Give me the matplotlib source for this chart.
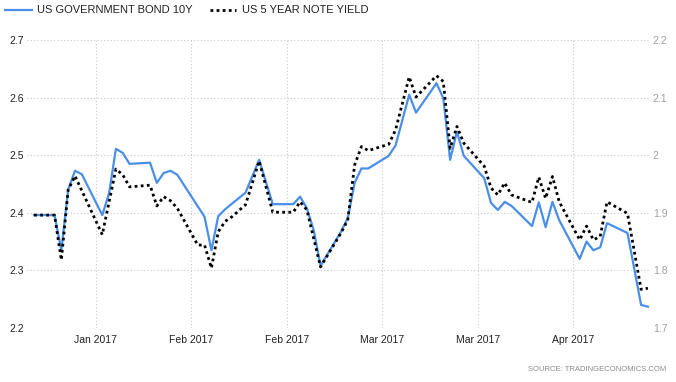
import matplotlib
matplotlib.use("Agg")
import matplotlib.pyplot as plt
from matplotlib.ticker import FuncFormatter

plt.rcParams['font.family'] = ['Liberation Sans', 'DejaVu Sans']

# trading-day index of each vertex
bond_x = [0, 3, 4, 5, 6, 7, 10, 11, 12, 13, 14, 17, 18, 19, 20, 21, 25, 26, 27, 28,
          31, 33, 35, 38, 39, 40, 41, 42, 45, 46, 47, 48, 49, 52, 53, 55, 56, 59, 60,
          61, 62, 63, 66, 67, 68, 69, 70, 73, 74, 75, 76, 77, 80, 81, 82, 83, 84, 87,
          89, 90]
bond_10y = [2.396, 2.396, 2.335, 2.44, 2.473, 2.467, 2.396, 2.434, 2.511, 2.504, 2.485,
            2.487, 2.452, 2.469, 2.473, 2.466, 2.393, 2.335, 2.394, 2.406, 2.435, 2.492,
            2.415, 2.415, 2.428, 2.408, 2.37, 2.308, 2.367, 2.391, 2.452, 2.477, 2.477,
            2.499, 2.517, 2.605, 2.574, 2.625, 2.599, 2.492, 2.541, 2.499, 2.46, 2.417,
            2.405, 2.419, 2.412, 2.377, 2.418, 2.375, 2.419, 2.387, 2.32, 2.35, 2.335,
            2.34, 2.382, 2.365, 2.24, 2.237]

note_x = [0, 3, 4, 5, 6, 10, 12, 13, 14, 17, 18, 19, 20, 21, 24, 25, 26, 27, 28, 29,
          31, 33, 35, 38, 39, 40, 42, 45, 46, 47, 48, 49, 52, 53, 55, 56, 59, 60, 61,
          62, 63, 66, 67, 68, 69, 70, 73, 74, 75, 76, 77, 80, 81, 82, 83, 84, 87, 89, 90]
note_5y = [1.896, 1.896, 1.818, 1.94, 1.964, 1.862, 1.976, 1.966, 1.945, 1.948, 1.912,
           1.928, 1.921, 1.908, 1.844, 1.844, 1.804, 1.867, 1.885, 1.893, 1.914, 1.99,
           1.901, 1.901, 1.919, 1.905, 1.806, 1.865, 1.888, 1.983, 2.015, 2.008, 2.019,
           2.044, 2.136, 2.101, 2.138, 2.128, 2.012, 2.05, 2.021, 1.981, 1.943, 1.931,
           1.952, 1.931, 1.918, 1.962, 1.925, 1.963, 1.919, 1.853, 1.877, 1.853, 1.859,
           1.919, 1.899, 1.767, 1.769]

tick_pos = [9.05, 23.05, 37.05, 51.05, 65.05, 79.05]
tick_labels = ['Jan 2017', 'Feb 2017', 'Feb 2017', 'Mar 2017', 'Mar 2017', 'Apr 2017']

fig = plt.figure(figsize=(6.76, 3.82), dpi=100)
ax = fig.add_axes([0.040, 0.1414, 0.9215, 0.7538])
ax2 = ax.twinx()

l1, = ax.plot(bond_x, bond_10y, color='#4a8fe7', lw=1.6, label='US GOVERNMENT BOND 10Y', zorder=3)
l2, = ax2.plot(note_x, note_5y, color='black', lw=2.0, ls=(0, (1, 1.2)), label='US 5 YEAR NOTE YIELD', zorder=4)

ax.set_xlim(-1.03, 90.3)
ax.set_ylim(2.2, 2.7)
ax2.set_ylim(1.7, 2.2)
ax.set_yticks([2.2, 2.3, 2.4, 2.5, 2.6, 2.7])
ax2.set_yticks([1.7, 1.8, 1.9, 2.0, 2.1, 2.2])
ax2.yaxis.set_major_formatter(FuncFormatter(lambda v, p: '%g' % round(v, 2)))
ax.set_xticks(tick_pos)
ax.set_xticklabels(tick_labels)

ax.grid(True, color='#c8c8c8', ls=(0, (1, 2)), lw=0.8)
for a in (ax, ax2):
    for s in a.spines.values():
        s.set_visible(False)
ax.tick_params(axis='both', length=0, labelsize=7.5, colors='#222222')
ax.tick_params(axis='x', pad=5)
ax.tick_params(axis='y', pad=2)
ax2.tick_params(axis='y', length=0, labelsize=7.5, colors='#a0a0a0', pad=2)

fig.legend(handles=[l1, l2], loc='upper left', bbox_to_anchor=(-0.0074, 1.012), ncol=2,
           frameon=False, fontsize=8, handlelength=2.4, handletextpad=0.5,
           columnspacing=1.5, labelcolor='#222222')

fig.text(0.985, 0.024, 'SOURCE: TRADINGECONOMICS.COM', ha='right', va='bottom',
         fontsize=5.5, color='#8a8a8a')

fig.savefig('out.png', dpi=100)
